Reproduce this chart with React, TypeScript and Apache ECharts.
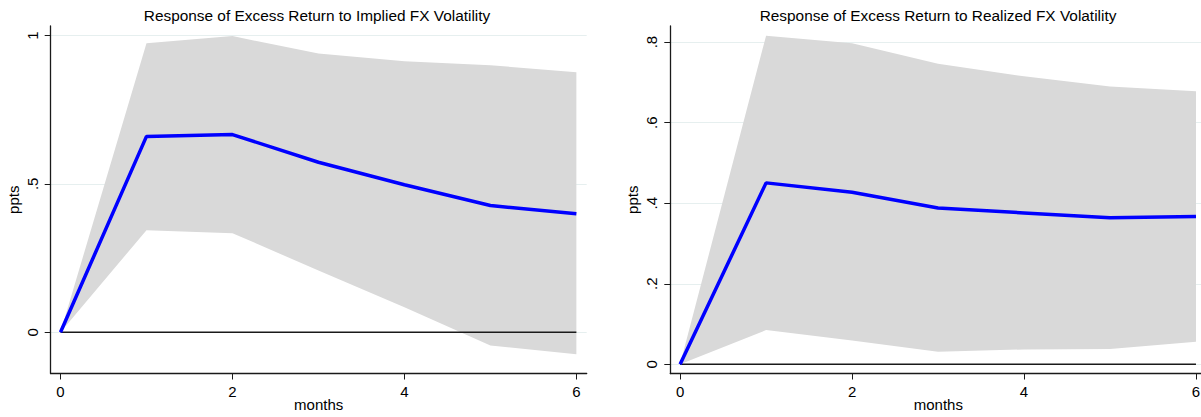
import React, { useEffect, useRef } from "react";
import * as echarts from "echarts";

// ---- data ----
const months = [0, 1, 2, 3, 4, 5, 6];
const impliedMean = [0, 0.66, 0.666, 0.573, 0.497, 0.427, 0.399];
const impliedUpper = [0, 0.974, 0.998, 0.939, 0.913, 0.9, 0.876];
const impliedLower = [0, 0.344, 0.334, 0.208, 0.084, -0.045, -0.074];
const realizedMean = [0, 0.4505, 0.427, 0.388, 0.376, 0.364, 0.367];
const realizedUpper = [0, 0.816, 0.797, 0.746, 0.715, 0.69, 0.678];
const realizedLower = [0, 0.085, 0.059, 0.031, 0.037, 0.038, 0.056];
const xTicks = [0, 2, 4, 6];
const xTickLabels = ["0", "2", "4", "6"];
const impliedYTicks = [0, 0.5, 1];
const impliedYLabels = ["0", ".5", "1"];
const realizedYTicks = [0, 0.2, 0.4, 0.6, 0.8];
const realizedYLabels = ["0", ".2", ".4", ".6", ".8"];
const titles = [
  "Response of Excess Return to Implied FX Volatility",
  "Response of Excess Return to Realized FX Volatility",
];
const xName = "months";
const yName = "ppts";

const FONT = "'Liberation Sans', Arial, Helvetica, sans-serif";
const AXIS_COLOR = "#1a1a1a";

function lookup(ticks: number[], labels: string[]) {
  return (v: number) => {
    const i = ticks.findIndex((t) => Math.abs(t - v) < 1e-9);
    return i >= 0 ? labels[i] : "";
  };
}

export default function App() {
  const ref = useRef<HTMLDivElement>(null);

  useEffect(() => {
    document.body.style.margin = "0";
    const chart = echarts.init(ref.current!, null, { renderer: "svg" });

    const grids = [
      { left: 50.7, top: 26, width: 536, height: 347.5, containLabel: false, outerBoundsMode: "none" },
      { left: 670.3, top: 26, width: 536, height: 347.5, containLabel: false, outerBoundsMode: "none" },
    ];
    const yRanges = [
      { min: -0.139, max: 1.032 },
      { min: -0.0228, max: 0.84 },
    ];
    const yTickSets = [impliedYTicks, realizedYTicks];
    const yLabelSets = [impliedYLabels, realizedYLabels];
    const means = [impliedMean, realizedMean];
    const uppers = [impliedUpper, realizedUpper];
    const lowers = [impliedLower, realizedLower];

    const xAxes: any[] = [];
    const yAxes: any[] = [];
    const series: any[] = [];

    for (let k = 0; k < 2; k++) {
      xAxes.push({
        type: "value",
        gridIndex: k,
        min: -0.114,
        max: 6.12,
        name: xName,
        nameLocation: "middle",
        nameGap: 23,
        nameMoveOverlap: false,
        nameTextStyle: { fontFamily: FONT, fontSize: 15, color: "#000" },
        axisLine: { show: true, onZero: false, lineStyle: { color: AXIS_COLOR, width: 1.3 } },
        axisTick: { show: true, length: 6, customValues: xTicks, lineStyle: { color: AXIS_COLOR, width: 1 } },
        axisLabel: {
          customValues: xTicks,
          formatter: lookup(xTicks, xTickLabels),
          fontFamily: FONT,
          fontSize: 15,
          color: "#000",
          margin: 10,
        },
        splitLine: { show: false },
      });
      yAxes.push({
        type: "value",
        gridIndex: k,
        min: yRanges[k].min,
        max: yRanges[k].max,
        name: yName,
        nameLocation: "middle",
        nameGap: 30,
        nameMoveOverlap: false,
        nameTextStyle: { fontFamily: FONT, fontSize: 15, color: "#000" },
        axisLine: { show: true, onZero: false, lineStyle: { color: AXIS_COLOR, width: 1.3 } },
        axisTick: { show: true, length: 6, customValues: yTickSets[k], lineStyle: { color: AXIS_COLOR, width: 1 } },
        axisLabel: {
          customValues: yTickSets[k],
          formatter: lookup(yTickSets[k], yLabelSets[k]),
          rotate: 90,
          fontFamily: FONT,
          fontSize: 15,
          color: "#000",
          margin: 11,
        },
        splitLine: { show: true, lineStyle: { color: "#e6efef", width: 1 } },
      });

      const lo = lowers[k];
      const up = uppers[k];
      series.push({
        type: "custom",
        xAxisIndex: k,
        yAxisIndex: k,
        silent: true,
        z: 1,
        data: months.map((m, i) => [m, lo[i], up[i]]),
        encode: { x: 0, y: [1, 2] },
        renderItem: (params: any, api: any) => {
          if (params.dataIndex !== 0) return null;
          const pts: number[][] = [];
          for (let i = 0; i < months.length; i++) pts.push(api.coord([months[i], up[i]]));
          for (let i = months.length - 1; i >= 0; i--) pts.push(api.coord([months[i], lo[i]]));
          return { type: "polygon", shape: { points: pts }, style: { fill: "#d9d9d9" } };
        },
      });
      series.push({
        type: "line",
        xAxisIndex: k,
        yAxisIndex: k,
        silent: true,
        z: 3,
        symbol: "none",
        data: [
          [months[0], 0],
          [months[months.length - 1], 0],
        ],
        lineStyle: { color: "#1a1a1a", width: 1.4 },
      });
      series.push({
        type: "line",
        xAxisIndex: k,
        yAxisIndex: k,
        silent: true,
        z: 4,
        symbol: "none",
        data: months.map((m, i) => [m, means[k][i]]),
        lineStyle: { color: "#0000ff", width: 3.5 },
      });
    }

    chart.setOption({
      animation: false,
      backgroundColor: "#ffffff",
      grid: grids,
      xAxis: xAxes,
      yAxis: yAxes,
      series,
      graphic: [
        {
          type: "text",
          x: 317,
          y: 15,
          style: { text: titles[0], textAlign: "center", textVerticalAlign: "middle", fontFamily: FONT, fontSize: 15.4, fill: "#000" },
        },
        {
          type: "text",
          x: 938,
          y: 15,
          style: { text: titles[1], textAlign: "center", textVerticalAlign: "middle", fontFamily: FONT, fontSize: 15.4, fill: "#000" },
        },
      ],
    });

    return () => chart.dispose();
  }, []);

  return <div ref={ref} style={{ width: 1201, height: 417 }} />;
}
